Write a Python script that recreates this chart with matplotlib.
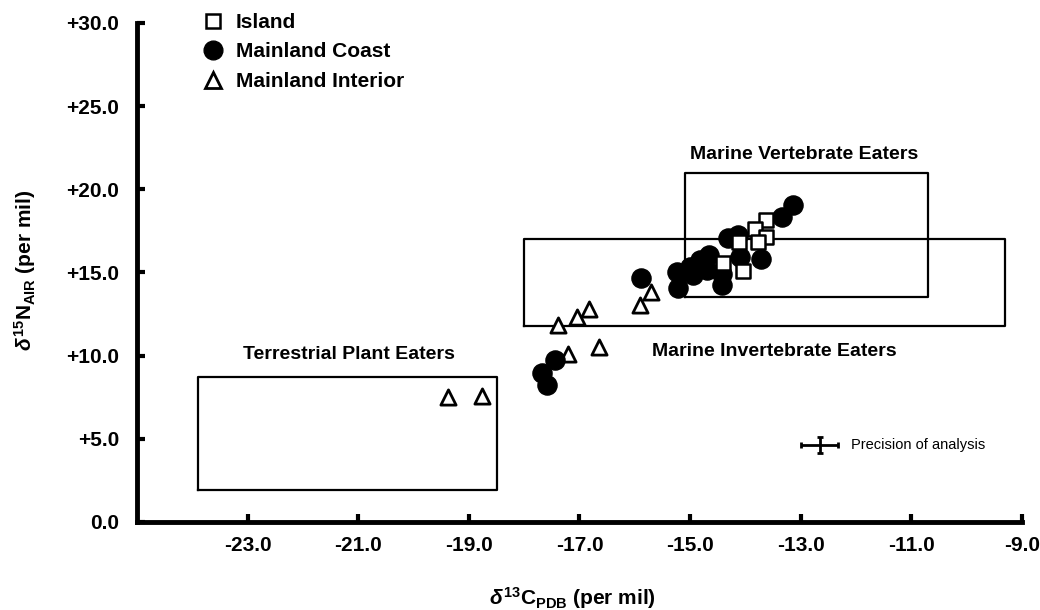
import matplotlib
matplotlib.use("Agg")
import matplotlib.pyplot as plt
from matplotlib.lines import Line2D

plt.rcParams["font.family"] = ["Liberation Sans", "DejaVu Sans"]
plt.rcParams["font.weight"] = "bold"
plt.rcParams["mathtext.fontset"] = "custom"
plt.rcParams["mathtext.rm"] = "Liberation Sans:bold"
plt.rcParams["mathtext.it"] = "Liberation Sans:italic:bold"
plt.rcParams["mathtext.bf"] = "Liberation Sans:bold"

# isotope values (d13C, d15N)
island_c = [-13.63, -13.83, -13.63, -13.78, -14.12, -14.41, -14.05]
island_n = [18.16, 17.62, 17.14, 16.84, 16.84, 15.57, 15.09]

coast_c = [-13.14, -13.33, -14.32, -14.14, -14.10, -13.71, -15.24, -15.22,
           -15.01, -14.83, -14.65, -14.70, -14.43, -14.43, -14.95, -15.88,
           -17.45, -17.67, -17.58]
coast_n = [19.06, 18.34, 17.08, 17.26, 15.94, 15.81, 15.03, 14.07,
           15.33, 15.75, 16.06, 15.15, 14.25, 14.91, 14.85, 14.67,
           9.74, 8.96, 8.24]

interior_c = [-19.38, -18.77, -17.39, -17.05, -16.83, -17.21, -16.65, -15.91, -15.71]
interior_n = [7.5, 7.6, 11.85, 12.33, 12.81, 10.10, 10.52, 13.05, 13.83]

# dietary reference boxes
box_names = ["Terrestrial Plant Eaters", "Marine Invertebrate Eaters", "Marine Vertebrate Eaters"]
box_c = [(-23.9, -18.5), (-18.0, -9.3), (-15.1, -10.7)]
box_n = [(1.9, 8.7), (11.8, 17.0), (13.5, 21.0)]
label_pos = [(-21.16, 10.04), (-13.47, 10.22), (-12.93, 22.07)]

# precision of analysis
prec_c, prec_n = -12.66, 4.63
prec_cerr, prec_nerr = 0.33, 0.5

x_ticks = [-23, -21, -19, -17, -15, -13, -11, -9]
x_labels = ["-23.0", "-21.0", "-19.0", "-17.0", "-15.0", "-13.0", "-11.0", "-9.0"]
y_ticks = [0, 5, 10, 15, 20, 25, 30]
y_labels = ["0.0", "+5.0", "+10.0", "+15.0", "+20.0", "+25.0", "+30.0"]

fig = plt.figure(figsize=(10.4, 6.1), dpi=100)
ax = fig.add_axes([0.1317, 0.1443, 0.851, 0.818])

for (c0, c1), (n0, n1) in zip(box_c, box_n):
    ax.plot([c0, c1, c1, c0, c0], [n0, n0, n1, n1, n0], color="black", lw=1.6, zorder=1)
for name, (lx, ly) in zip(box_names, label_pos):
    ax.text(lx, ly, name, ha="center", va="center", fontsize=14, fontweight="bold")

ax.scatter(coast_c, coast_n, marker="o", s=190, color="black", zorder=3)
ax.scatter(interior_c, interior_n, marker="^", s=120, facecolor="white",
           edgecolor="black", linewidths=2.0, zorder=2)
ax.scatter(island_c, island_n, marker="s", s=95, facecolor="white",
           edgecolor="black", linewidths=1.8, zorder=4)

ax.errorbar([prec_c], [prec_n], xerr=[prec_cerr], yerr=[prec_nerr], fmt="none",
            ecolor="black", elinewidth=2, capsize=2.5, capthick=2)
ax.text(prec_c + 0.56, prec_n, "Precision of analysis", va="center",
        fontsize=10.5, fontweight="normal")

handles = [
    Line2D([], [], ls="none", marker="s", ms=9.5, mfc="white", mec="black", mew=1.8),
    Line2D([], [], ls="none", marker="o", ms=13.5, mfc="black", mec="black"),
    Line2D([], [], ls="none", marker="^", ms=11, mfc="white", mec="black", mew=2.0),
]
ax.legend(handles, ["Island", "Mainland Coast", "Mainland Interior"],
          loc="upper left", bbox_to_anchor=(0.0717, 1.02), frameon=False,
          prop={"size": 15, "weight": "bold"}, handletextpad=0.5,
          labelspacing=0.5, borderaxespad=0, borderpad=0, handlelength=1.2)

ax.set_xlim(-25, -9)
ax.set_ylim(0, 30)
ax.set_xticks(x_ticks)
ax.set_xticklabels(x_labels)
ax.set_yticks(y_ticks)
ax.set_yticklabels(y_labels)
ax.tick_params(direction="in", length=6, width=3, labelsize=15, pad=10)
ax.tick_params(axis="y", pad=13)
for side in ["top", "right"]:
    ax.spines[side].set_visible(False)
for side in ["left", "bottom"]:
    ax.spines[side].set_linewidth(3.5)

fig.text(572 / 1040, 1 - 598 / 610, r"$\delta^{13}$C$_{\mathrm{PDB}}$ (per mil)",
         ha="center", va="center", fontsize=15, fontweight="bold")
fig.text(25 / 1040, 1 - 270 / 610, r"$\delta^{15}$N$_{\mathrm{AIR}}$ (per mil)",
         ha="center", va="center", rotation=90, fontsize=15, fontweight="bold")

fig.savefig("out.png", dpi=100)
